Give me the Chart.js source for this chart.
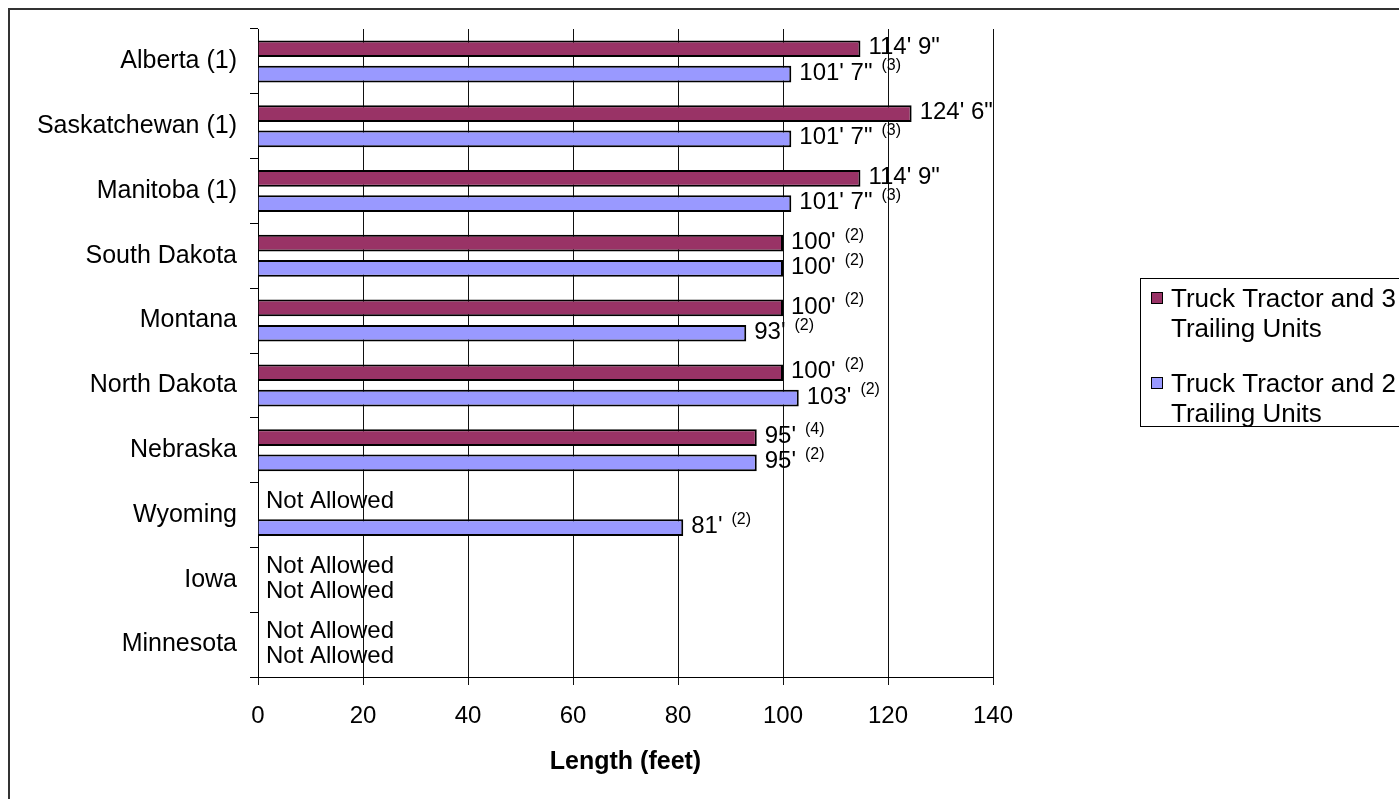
<!DOCTYPE html>
<html>
<head>
<meta charset="utf-8">
<script src="https://cdn.jsdelivr.net/npm/chart.js@4.4.1/dist/chart.umd.min.js"></script>
<style>
  body { margin: 0; background: #fff; }
  canvas { display: block; }
</style>
</head>
<body>
<canvas id="chart" width="1399" height="799"></canvas>
<script>
const provinces = ['Alberta (1)', 'Saskatchewan (1)', 'Manitoba (1)', 'South Dakota', 'Montana',
  'North Dakota', 'Nebraska', 'Wyoming', 'Iowa', 'Minnesota'];
// lengths in feet, null = not allowed
const threeTrailers = [114.75, 124.5, 114.75, 100, 100, 100, 95, null, null, null];
const twoTrailers = [101.58, 101.58, 101.58, 100, 93, 103, 95, 81, null, null];
const threeLabels = ["114' 9\"", "124' 6\"", "114' 9\"", "100'", "100'", "100'", "95'", null, null, null];
const threeNotes = ['', '', '', '(2)', '(2)', '(2)', '(4)', '', '', ''];
const twoLabels = ["101' 7\"", "101' 7\"", "101' 7\"", "100'", "93'", "103'", "95'", "81'", null, null];
const twoNotes = ['(3)', '(3)', '(3)', '(2)', '(2)', '(2)', '(2)', '(2)', '', ''];
const xTicks = [0, 20, 40, 60, 80, 100, 120, 140];
const legendNames = [['Truck Tractor and 3', 'Trailing Units'], ['Truck Tractor and 2', 'Trailing Units']];
const colors = ['#993366', '#9999FF'];

const FONT = '"Liberation Sans", Arial, sans-serif';
Chart.defaults.font.family = FONT;
Chart.defaults.color = '#000';

// white page + outer frame
const framePlugin = {
  id: 'frame',
  beforeDraw(chart) {
    const ctx = chart.ctx;
    ctx.save();
    ctx.fillStyle = '#fff';
    ctx.fillRect(0, 0, chart.width, chart.height);
    ctx.strokeStyle = '#333';
    ctx.lineWidth = 2;
    ctx.strokeRect(9, 9, chart.width + 20, chart.height + 20);
    ctx.restore();
  }
};

// value labels with little footnote marks
const labelPlugin = {
  id: 'barLabels',
  afterDatasetsDraw(chart) {
    const ctx = chart.ctx;
    const x0 = chart.scales.x.getPixelForValue(0);
    const texts = [threeLabels, twoLabels];
    const notes = [threeNotes, twoNotes];
    ctx.save();
    ctx.fillStyle = '#000';
    ctx.textBaseline = 'middle';
    chart.data.datasets.forEach((ds, d) => {
      chart.getDatasetMeta(d).data.forEach((bar, i) => {
        const y = bar.y - 1;
        const v = ds.data[i];
        const main = texts[d][i] ?? 'Not Allowed';
        const x = (v == null ? x0 : bar.x) + 8;
        ctx.font = '24px ' + FONT;
        ctx.fillText(main, x, y);
        if (notes[d][i]) {
          const w = ctx.measureText(main).width;
          ctx.font = '16px ' + FONT;
          ctx.fillText(notes[d][i], x + w + 9, y - 7);
        }
      });
    });
    ctx.restore();
  }
};

// legend box on the right, text wraps on two lines
const legendPlugin = {
  id: 'boxLegend',
  afterDraw(chart) {
    const ctx = chart.ctx;
    ctx.save();
    ctx.strokeStyle = '#000';
    ctx.lineWidth = 1;
    ctx.strokeRect(1140.5, 278.5, 300, 148);
    ctx.font = '26px ' + FONT;
    ctx.textBaseline = 'alphabetic';
    legendNames.forEach((lines, k) => {
      const top = 292 + k * 85;
      ctx.fillStyle = colors[k];
      ctx.fillRect(1151, top, 11, 11);
      ctx.strokeRect(1151.5, top + 0.5, 11, 11);
      ctx.fillStyle = '#000';
      lines.forEach((t, j) => ctx.fillText(t, 1171, top + 15 + j * 30));
    });
    ctx.restore();
  }
};

new Chart(document.getElementById('chart'), {
  type: 'bar',
  data: {
    labels: provinces,
    datasets: [
      { label: legendNames[0].join(' '), data: threeTrailers, backgroundColor: colors[0],
        borderColor: '#000', borderWidth: 2 },
      { label: legendNames[1].join(' '), data: twoTrailers, backgroundColor: colors[1],
        borderColor: '#000', borderWidth: 2 }
    ]
  },
  options: {
    indexAxis: 'y',
    responsive: false,
    animation: false,
    categoryPercentage: 0.78,
    barPercentage: 0.66,
    layout: { padding: { top: 29, right: 406, left: 0, bottom: 0 } },
    plugins: { legend: { display: false }, tooltip: { enabled: false } },
    scales: {
      y: {
        afterFit(scale) { scale.width = 258; },
        grid: { offset: true, drawOnChartArea: false, tickLength: 8, color: '#000' },
        border: { color: '#000' },
        ticks: { font: { size: 25 }, padding: 13, color: '#000' }
      },
      x: {
        min: 0,
        max: 140,
        afterFit(scale) { scale.height = 122; },
        afterBuildTicks(scale) { scale.ticks = xTicks.map(v => ({ value: v })); },
        grid: { color: '#111', tickLength: 8 },
        border: { color: '#000' },
        ticks: { font: { size: 24 }, padding: 17, color: '#000' },
        title: {
          display: true,
          text: 'Length (feet)',
          font: { size: 25, weight: 'bold' },
          color: '#000',
          padding: { top: 0, bottom: 22 }
        }
      }
    }
  },
  plugins: [framePlugin, labelPlugin, legendPlugin]
});
</script>
</body>
</html>
